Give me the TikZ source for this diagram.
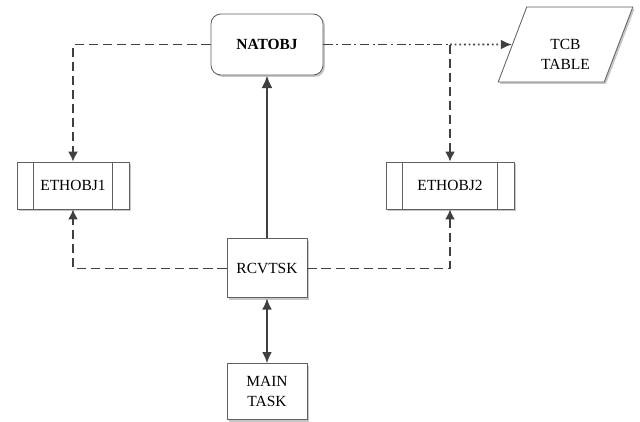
\documentclass[tikz,border=0pt]{standalone}
\usepackage{fontspec}
\setmainfont{Liberation Serif}
\usetikzlibrary{shapes,arrows.meta,positioning,shadows}
\definecolor{linegray}{HTML}{404040}
\definecolor{boxgray}{HTML}{606060}
\newcommand{\boxfont}{\fontsize{11}{14}\selectfont}
\tikzset{block/.style = {draw=boxgray, fill=white, rectangle, line width=0.6pt, align=center, inner sep=0pt,
                         font=\boxfont, drop shadow={shadow xshift=1.3pt, shadow yshift=-1.3pt, fill=black!22, opacity=1}},
         term/.style = {block, rounded corners=7pt, minimum width=2.8cm, minimum height=1.525cm},
         subproc/.style = {block, minimum height=1.175cm,
                           path picture={\draw[boxgray, line width=0.6pt]
                             ([xshift=0.42cm]path picture bounding box.north west) -- ([xshift=0.42cm]path picture bounding box.south west)
                             ([xshift=-0.42cm]path picture bounding box.north east) -- ([xshift=-0.42cm]path picture bounding box.south east);}},
         datab/.style = {block, trapezium, trapezium left angle=70, trapezium right angle=110, trapezium stretches=true,
                         minimum width=3.375cm, minimum height=1.875cm},
         dashline/.style = {draw=linegray, line width=1.2pt, dash pattern=on 6.5pt off 3.5pt, -{Latex[length=7pt, width=7pt]}},
         dashdotline/.style = {draw=linegray, line width=1.2pt, dash pattern=on 6.5pt off 2.5pt on 1.5pt off 2.5pt},
         dotline/.style = {draw=linegray, line width=1.2pt, dash pattern=on 1.3pt off 2pt, -{Latex[length=8pt, width=7pt]}},
         thickline/.style = {draw=linegray, line width=2pt, -{Latex[length=9pt, width=8pt]}},
         bothline/.style = {draw=linegray, line width=1.3pt, {Latex[length=8pt, width=7pt]}-{Latex[length=8pt, width=7pt]}},
}
\begin{document}
\begin{tikzpicture}[x=0.025cm, y=-0.025cm]
  \useasboundingbox (0,0) rectangle (640,422);

  \node[term, font=\boxfont\bfseries] (NATOBJ) at (267,44.5) {NATOBJ};
  \node[datab] (TCB) at (565.5,44.5) {\mbox{}\\[7pt]TCB\\TABLE};

  \node[block, below = 4.075cm of NATOBJ, minimum width=2cm, minimum height=1.475cm] (RCVTSK) {RCVTSK};
  \node[block, below = 1.625cm of RCVTSK, minimum width=2cm, minimum height=1.4cm] (MAIN) {MAIN\\TASK};

  \node[subproc, minimum width=2.8cm] (ETHOBJ1) at (73,185.5) {ETHOBJ1};
  \node[subproc, minimum width=3.2cm] (ETHOBJ2) at (450,185.5) {ETHOBJ2};

  \coordinate (split) at (ETHOBJ2.north |- NATOBJ.east);

  \draw[dashline] (NATOBJ) -| (ETHOBJ1);
  \draw[dashdotline] (NATOBJ) -- (split);
  \draw[dotline] (split) -- (TCB);
  \draw[dashline] (split) -- (ETHOBJ2);

  \draw[dashline] (RCVTSK) -| (ETHOBJ1);
  \draw[dashline] (RCVTSK) -| (ETHOBJ2);

  \draw[thickline] (RCVTSK) -- (NATOBJ);
  \draw[bothline] (RCVTSK) -- (MAIN);
\end{tikzpicture}
\end{document}
